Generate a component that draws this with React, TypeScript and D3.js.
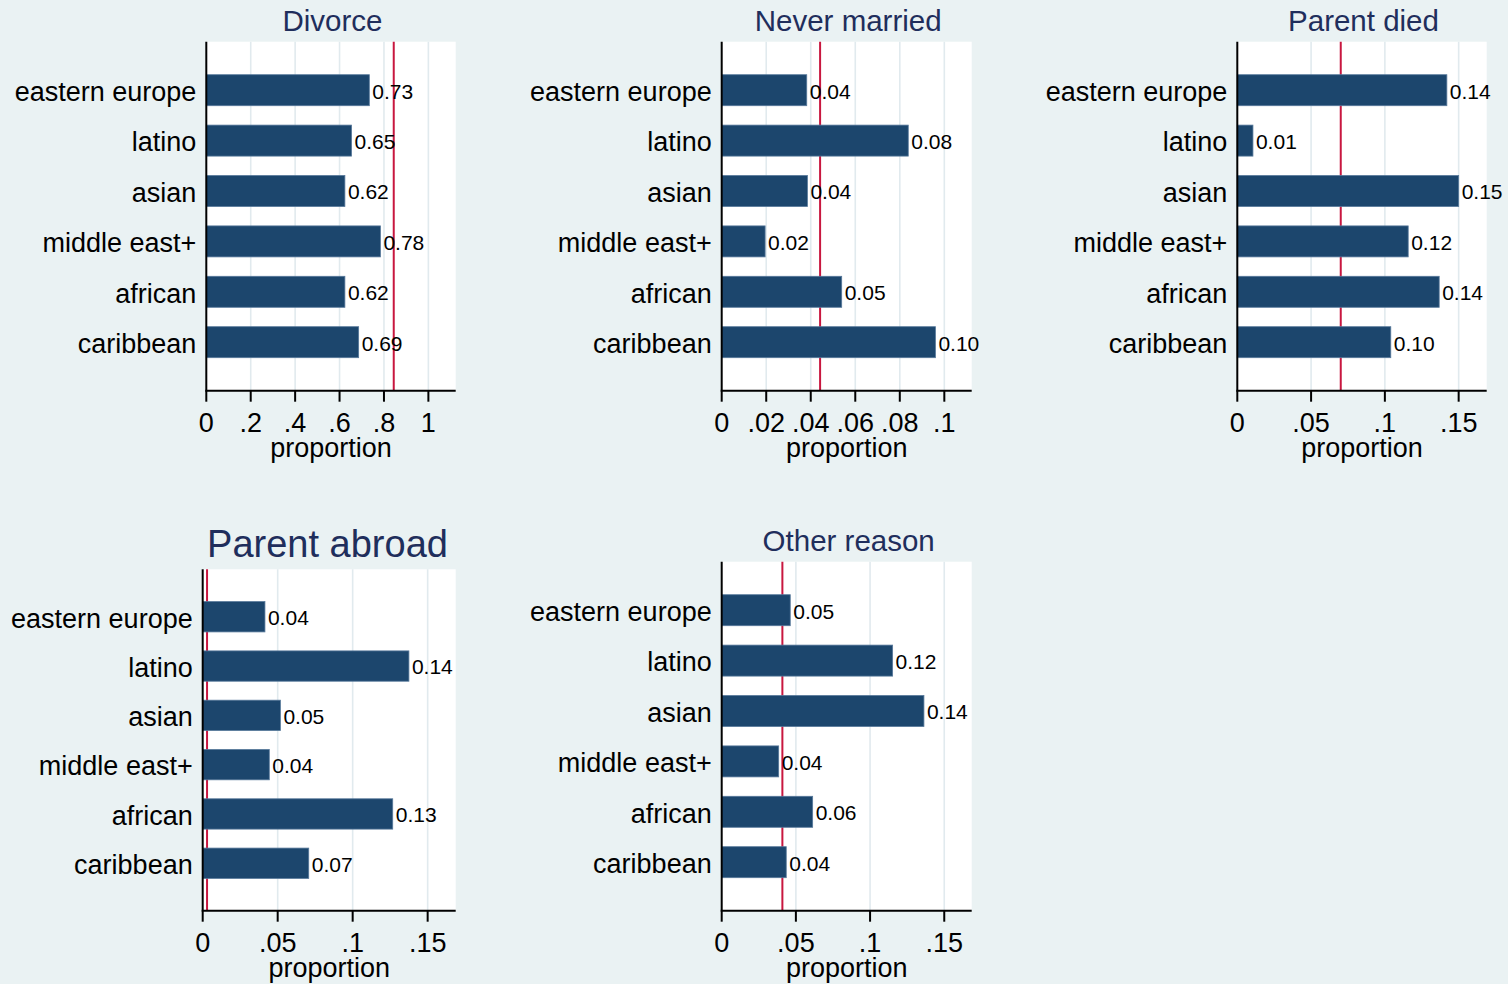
import React, { useEffect, useRef } from 'react';
import * as d3 from 'd3';

// categories shared by every panel (top to bottom)
const categories = ['eastern europe', 'latino', 'asian', 'middle east+', 'african', 'caribbean'];

// proportions per panel
const divorce = [0.734, 0.654, 0.624, 0.784, 0.624, 0.686];
const neverMarried = [0.0382, 0.0838, 0.0385, 0.0195, 0.0539, 0.096];
const parentDied = [0.142, 0.0106, 0.150, 0.1158, 0.1368, 0.104];
const parentAbroad = [0.0415, 0.1375, 0.0518, 0.0444, 0.1267, 0.0707];
const otherReason = [0.0462, 0.1152, 0.1363, 0.0384, 0.0613, 0.0435];

// reference (red) lines
const refLines = [0.844, 0.0442, 0.0701, 0.0029, 0.0409];

// axis ticks
const ticksDivorce = [0, 0.2, 0.4, 0.6, 0.8, 1];
const tickLabelsDivorce = ['0', '.2', '.4', '.6', '.8', '1'];
const ticksNever = [0, 0.02, 0.04, 0.06, 0.08, 0.1];
const tickLabelsNever = ['0', '.02', '.04', '.06', '.08', '.1'];
const ticksSmall = [0, 0.05, 0.1, 0.15];
const tickLabelsSmall = ['0', '.05', '.1', '.15'];

const titles = ['Divorce', 'Never married', 'Parent died', 'Parent abroad', 'Other reason'];
const axisMax = [1.123, 0.1123, 0.169, 0.1687, 0.1685];

const panels = [
  { title: titles[0], values: divorce, ref: refLines[0], max: axisMax[0], ticks: ticksDivorce, tickLabels: tickLabelsDivorce,
    box: { left: 206.3, right: 455.7, top: 41.7, bottom: 390.7 }, titleSize: 29.5, titleGap: 11, titleShift: 1.5 },
  { title: titles[1], values: neverMarried, ref: refLines[1], max: axisMax[1], ticks: ticksNever, tickLabels: tickLabelsNever,
    box: { left: 721.7, right: 971.7, top: 41.7, bottom: 390.7 }, titleSize: 29.5, titleGap: 11, titleShift: 1.5 },
  { title: titles[2], values: parentDied, ref: refLines[2], max: axisMax[2], ticks: ticksSmall, tickLabels: tickLabelsSmall,
    box: { left: 1237.3, right: 1486.7, top: 41.7, bottom: 390.7 }, titleSize: 29.5, titleGap: 11, titleShift: 1.5 },
  { title: titles[3], values: parentAbroad, ref: refLines[3], max: axisMax[3], ticks: ticksSmall, tickLabels: tickLabelsSmall,
    box: { left: 202.7, right: 455.7, top: 569.3, bottom: 910.7 }, titleSize: 38, titleGap: 12.6, titleShift: -1.7 },
  { title: titles[4], values: otherReason, ref: refLines[4], max: axisMax[4], ticks: ticksSmall, tickLabels: tickLabelsSmall,
    box: { left: 721.7, right: 971.7, top: 561.7, bottom: 910.7 }, titleSize: 29.5, titleGap: 10.7, titleShift: 2 },
];

const FONT = '"Liberation Sans", Arial, Helvetica, sans-serif';
const colors = {
  background: '#eaf2f3',
  plot: '#ffffff',
  bar: '#1c466d',
  barEdge: '#56789a',
  grid: '#e1eaee',
  ref: '#c8173f',
  title: '#1f2e5c',
  text: '#000000',
};

const App = () => {
  const svgRef = useRef(null);

  useEffect(() => {
    document.body.style.margin = '0';
    const svg = d3.select(svgRef.current);
    svg.selectAll('*').remove();

    svg.append('rect')
      .attr('width', 1508)
      .attr('height', 984)
      .attr('fill', colors.background);

    panels.forEach(p => {
      const { left, right, top, bottom } = p.box;
      const g = svg.append('g');

      const x = d3.scaleLinear().domain([0, p.max]).range([left, right]);
      const y = d3.scaleBand()
        .domain(categories)
        .range([top, bottom])
        .paddingInner(0.385)
        .paddingOuter(0.655);

      // plot region
      g.append('rect')
        .attr('x', left)
        .attr('y', top)
        .attr('width', right - left)
        .attr('height', bottom - top)
        .attr('fill', colors.plot);

      // grid lines
      g.selectAll('.grid')
        .data(p.ticks.filter(t => t > 0))
        .enter()
        .append('line')
        .attr('x1', d => x(d))
        .attr('x2', d => x(d))
        .attr('y1', top)
        .attr('y2', bottom)
        .attr('stroke', colors.grid)
        .attr('stroke-width', 1.6);

      // reference line
      g.append('line')
        .attr('x1', x(p.ref))
        .attr('x2', x(p.ref))
        .attr('y1', top)
        .attr('y2', bottom)
        .attr('stroke', colors.ref)
        .attr('stroke-width', 2);

      // bars
      g.selectAll('.bar')
        .data(p.values)
        .enter()
        .append('rect')
        .attr('x', x(0))
        .attr('y', (d, i) => y(categories[i]))
        .attr('width', d => x(d) - x(0))
        .attr('height', y.bandwidth())
        .attr('fill', colors.bar)
        .attr('stroke', colors.barEdge)
        .attr('stroke-width', 0.8);

      // value labels
      g.selectAll('.val')
        .data(p.values)
        .enter()
        .append('text')
        .attr('x', d => x(d) + 3)
        .attr('y', (d, i) => y(categories[i]) + y.bandwidth() / 2)
        .attr('dy', '0.4em')
        .style('font-family', FONT)
        .style('font-size', '21px')
        .attr('fill', colors.text)
        .text(d => d3.format('.2f')(d));

      // category labels
      g.selectAll('.cat')
        .data(categories)
        .enter()
        .append('text')
        .attr('x', left - 10)
        .attr('y', d => y(d) + y.bandwidth() / 2)
        .attr('dy', '0.4em')
        .attr('text-anchor', 'end')
        .style('font-family', FONT)
        .style('font-size', '27px')
        .attr('fill', colors.text)
        .text(d => d);

      // axes
      g.append('line')
        .attr('x1', left)
        .attr('x2', left)
        .attr('y1', top)
        .attr('y2', bottom)
        .attr('stroke', '#000')
        .attr('stroke-width', 2);
      g.append('line')
        .attr('x1', left - 1)
        .attr('x2', right)
        .attr('y1', bottom)
        .attr('y2', bottom)
        .attr('stroke', '#000')
        .attr('stroke-width', 2);

      g.selectAll('.tick')
        .data(p.ticks)
        .enter()
        .append('line')
        .attr('x1', d => x(d))
        .attr('x2', d => x(d))
        .attr('y1', bottom)
        .attr('y2', bottom + 11)
        .attr('stroke', '#000')
        .attr('stroke-width', 2);

      g.selectAll('.ticklabel')
        .data(p.ticks)
        .enter()
        .append('text')
        .attr('x', d => x(d))
        .attr('y', bottom + 41.5)
        .attr('text-anchor', 'middle')
        .style('font-family', FONT)
        .style('font-size', '27px')
        .attr('fill', colors.text)
        .text((d, i) => p.tickLabels[i]);

      // axis title
      g.append('text')
        .attr('x', (left + right) / 2)
        .attr('y', bottom + 66.3)
        .attr('text-anchor', 'middle')
        .style('font-family', FONT)
        .style('font-size', '27px')
        .attr('fill', colors.text)
        .text('proportion');

      // panel title
      g.append('text')
        .attr('x', (left + right) / 2 + p.titleShift)
        .attr('y', top - p.titleGap)
        .attr('text-anchor', 'middle')
        .style('font-family', FONT)
        .style('font-size', `${p.titleSize}px`)
        .attr('fill', colors.title)
        .text(p.title);
    });
  }, []);

  return (
    <div style={{ width: 1508, height: 984, overflow: 'hidden' }}>
      <svg ref={svgRef} width={1508} height={984} style={{ display: 'block' }} />
    </div>
  );
};

export default App;
